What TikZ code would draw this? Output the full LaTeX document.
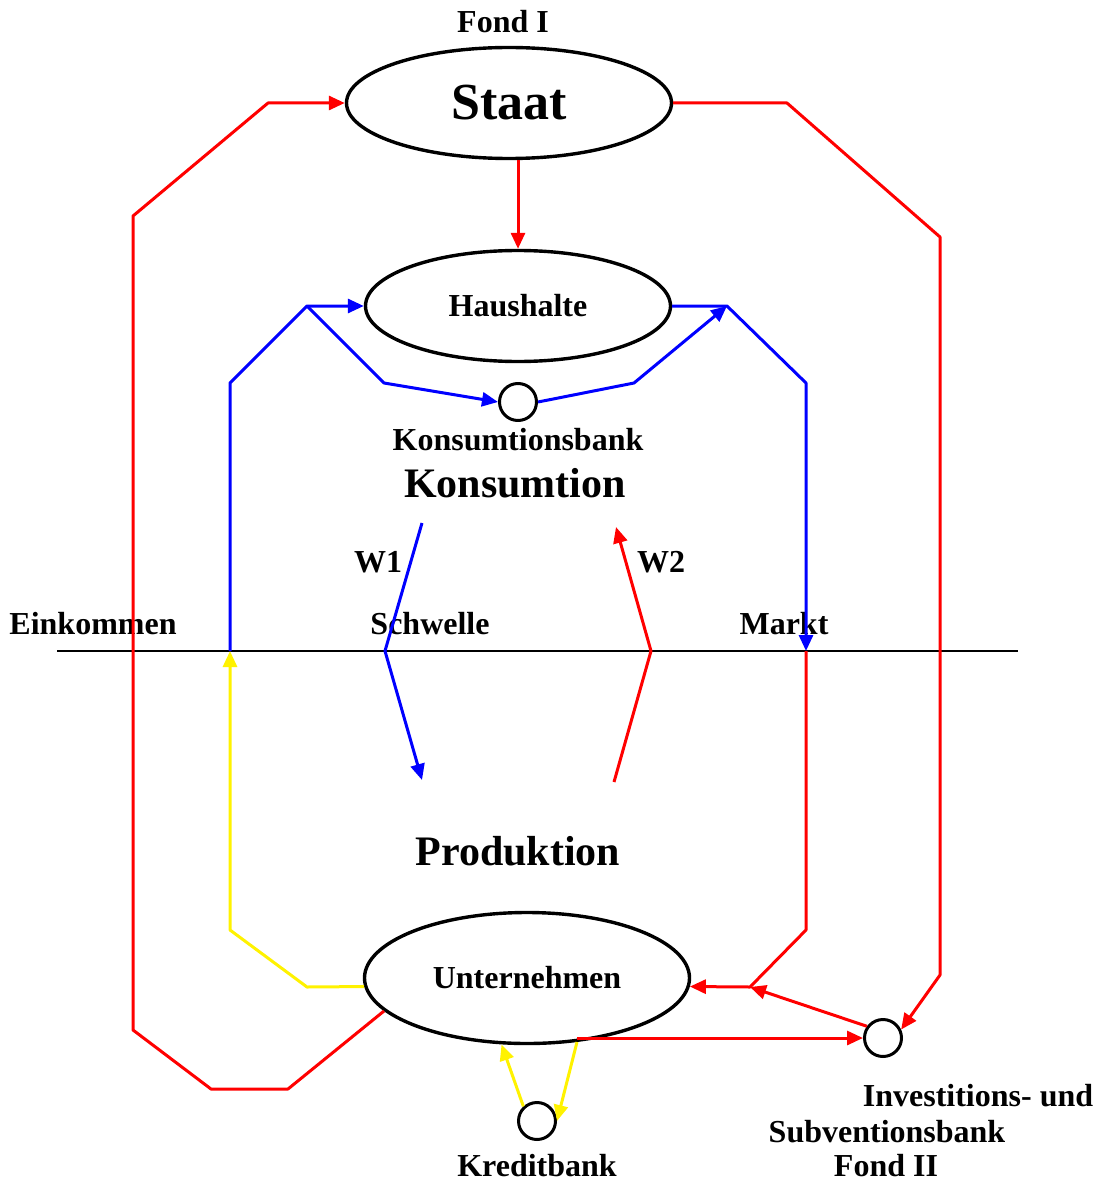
\documentclass[tikz,border=0pt]{standalone}
\usepackage{fontspec}
\setmainfont{Liberation Serif}
\usetikzlibrary{shapes.geometric,arrows.meta}

\begin{document}
\begin{tikzpicture}[x=0.5pt, y=-0.5pt, line join=round, >={Triangle[length=8pt,width=7pt]},
	ell/.style={ellipse, draw, line width=1.7pt, inner sep=0pt},
	bank/.style={circle, draw, line width=1.5pt, minimum size=18.5pt, inner sep=0pt},
	lbl/.style={inner sep=1pt, font=\fontsize{16}{19}\selectfont\bfseries},
	big/.style={inner sep=1pt, font=\fontsize{21}{25}\selectfont\bfseries},
	rot/.style={draw=red, line width=1.5pt},
	blau/.style={draw=blue, line width=1.5pt},
	gelb/.style={draw=yellow, line width=1.5pt}]
			\useasboundingbox (0,0) rectangle (1099,1182);
			% Knoten
			\node[ell, minimum width=162.5pt, minimum height=55.5pt, font=\fontsize{26}{30}\selectfont\bfseries] (staat) at (509,103) {Staat};
			\node[lbl] (fondI) at (503,22) {Fond I};
			\node[ell, lbl, inner sep=0pt, minimum width=152.5pt, minimum height=55.5pt] (haus) at (518,306) {Haushalte};
			\node[bank] (kbank) at (518,402) {};
			\node[lbl] (kbanklbl) at (518,440) {Konsumtionsbank};
			\node[big] (konsum) at (515,483) {Konsumtion};
			\node[big] (prod) at (518,851) {Produktion};
			\node[ell, lbl, inner sep=0pt, minimum width=162.5pt, minimum height=65.5pt] (unt) at (527,978) {Unternehmen};
			\node[bank] (kredit) at (537,1121) {};
			\node[lbl] (kreditlbl) at (537,1166) {Kreditbank};
			\node[bank] (invest) at (883,1038) {};
			\node[lbl] (investlblA) at (978,1096) {Investitions- und};
			\node[lbl] (investlblB) at (887,1132) {Subventionsbank};
			\node[lbl] (investlblC) at (886,1166) {Fond II};
			\node[lbl] (eink) at (93,624) {Einkommen};
			\node[lbl] (schw) at (430,624) {Schwelle};
			\node[lbl] (markt) at (784,624) {Markt};
			\node[lbl] (wI) at (378,562) {W1};
			\node[lbl] (wII) at (661,562) {W2};
			% Schwelle
			\coordinate (linL) at (57,651);
			\coordinate (linR) at (1018,651);
			\draw[line width=0.75pt] (linL) -- (linR);
			% Eckpunkte
			\coordinate (eL) at (230,651);
			\coordinate (mR) at (806,651);
			\coordinate (hL) at (307,306);
			\coordinate (hR) at (727,306);
			\coordinate (aR) at (750,987);
			% rot
			\draw[rot, ->] (unt.193) -- (288,1089) -- (211,1089) -- (133,1030) -- (133,216) -- (268,103) -- (staat.west);
			\draw[rot, ->] (staat.east) -- (787,103) -- (940,237) -- (940,975) -- (invest.25);
			\draw[rot, ->] (staat.south -| haus.north) -- (haus.north);
			\draw[rot, ->] (mR) -- (806,930) -- (aR) -- (unt.-3);
			\draw[rot, ->] (invest.144) -- (aR);
			\draw[rot, ->] (unt.308 |- invest.west) -- (invest.west);
			\draw[rot, ->] (614,782) -- (651,651) -- (616,527);
			% blau
			\draw[blau, ->] (eL) -- (230,383) -- (hL) -- (haus.west);
			\draw[blau, ->] (hL) -- (384,383) -- (kbank.west);
			\draw[blau, ->] (kbank.east) -- (634,383) -- (hR);
			\draw[blau, ->] (haus.east) -- (hR) -- (806,383) -- (mR);
			\draw[blau, ->] (422,523) -- (385,651) -- (422,780);
			% gelb
			\draw[gelb, ->] (unt.183) -- (307,987) -- (230,930) -- (eL);
			\draw[gelb, ->] (kredit.133) -- (unt.249);
			\draw[gelb, ->] (unt.308) -- (kredit.east);
		\end{tikzpicture}
\end{document}
